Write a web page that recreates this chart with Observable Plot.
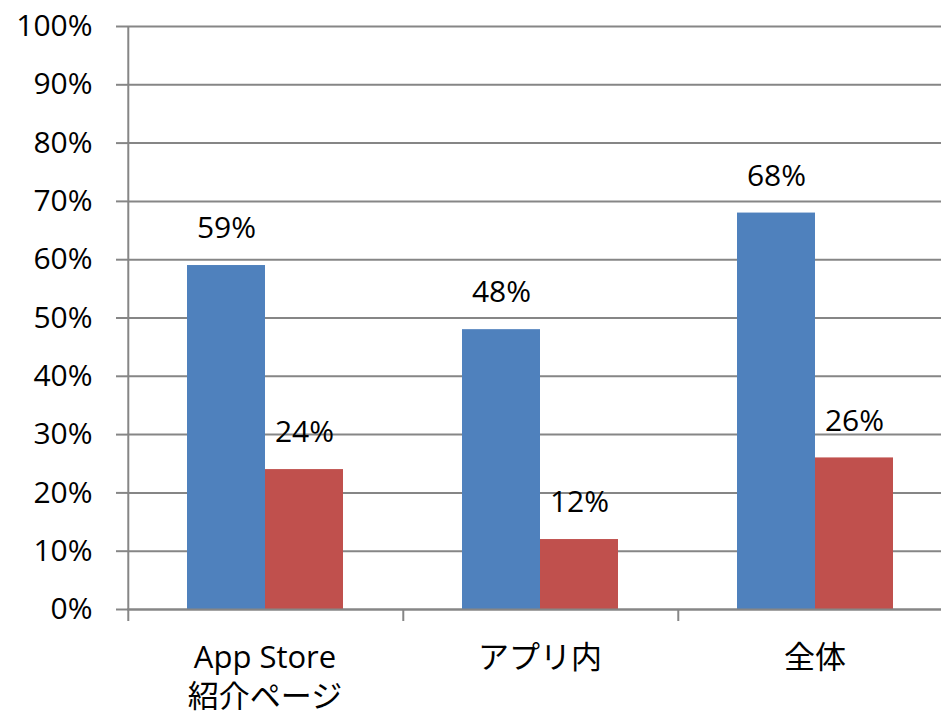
<!DOCTYPE html>
<html>
<head>
<meta charset="utf-8">
<script src="https://cdn.jsdelivr.net/npm/d3@7"></script>
<script src="https://cdn.jsdelivr.net/npm/@observablehq/plot@0.6"></script>
<style>
  html, body { margin: 0; padding: 0; background: #fff; }
  #chart { width: 941px; height: 716px; overflow: hidden; }
</style>
</head>
<body>
<div id="chart"></div>
<script>
const categories = ["App Store\n紹介ページ", "アプリ内", "全体"];
const seriesNames = ["系列1", "系列2"];
const series1Values = [59, 48, 68];
const series2Values = [24, 12, 26];
const yTicks = [0, 10, 20, 30, 40, 50, 60, 70, 80, 90, 100];
const seriesColors = ["#4F81BD", "#C0504D"];

const data = [];
categories.forEach((c, i) => {
  data.push({cat: c, series: seriesNames[0], value: series1Values[i]});
  data.push({cat: c, series: seriesNames[1], value: series2Values[i]});
});

const W = 941, H = 716;
const mL = 127, mT = 26, mB = 107;
const groupWidth = 275;
const padOuter = 0.75;
const step = groupWidth / (seriesNames.length + 2 * padOuter);
const edgeDx = -(padOuter + 0.5) * step;
const gray = "#868686";
const font = "'Open Sans', 'Noto Sans CJK JP', sans-serif";

const chart = Plot.plot({
  width: W,
  height: H,
  marginLeft: mL,
  marginRight: 0,
  marginTop: mT,
  marginBottom: mB,
  style: {fontFamily: font, fontSize: "30px", color: "black", background: "white", overflow: "hidden"},
  fx: {domain: categories, range: [mL, mL + groupWidth * categories.length], padding: 0, label: null, axis: null},
  x: {domain: seriesNames, paddingInner: 0, paddingOuter: padOuter, axis: null},
  y: {domain: [0, 100], axis: null},
  color: {domain: seriesNames, range: seriesColors},
  marks: [
    Plot.gridY(yTicks, {stroke: gray, strokeOpacity: 1, strokeWidth: 2}),
    Plot.barY(data, {fx: "cat", x: "series", y: "value", fill: "series"}),
    Plot.ruleY([0], {stroke: gray, strokeWidth: 2}),
    Plot.ruleX([categories[0]], {fx: d => d, x: () => seriesNames[0], dx: edgeDx, stroke: gray, strokeWidth: 2, insetBottom: -12}),
    Plot.ruleX(categories.slice(1), {fx: d => d, x: () => seriesNames[0], dx: edgeDx, y1: () => 0, stroke: gray, strokeWidth: 2, insetBottom: -12}),
    Plot.axisY({
      ticks: yTicks,
      tickFormat: d => d + "%",
      tickSize: 11,
      tickPadding: 24,
      stroke: gray,
      strokeWidth: 2,
      strokeOpacity: 1,
      fill: "black",
      fontSize: 30,
      label: null
    }),
    Plot.text(categories, {
      fx: d => d,
      frameAnchor: "bottom",
      lineAnchor: "top",
      dy: 31,
      text: d => d,
      fontSize: 31,
      lineHeight: 1.25,
      fill: "black"
    }),
    Plot.text(data, {
      fx: "cat",
      x: "series",
      y: "value",
      text: d => d.value + "%",
      dy: -37,
      fontSize: 30,
      fill: "black"
    })
  ]
});

document.getElementById("chart").appendChild(chart);
</script>
</body>
</html>
